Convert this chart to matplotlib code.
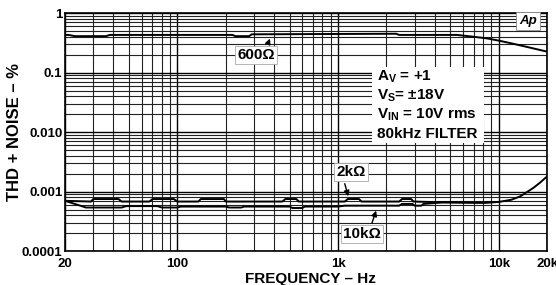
import matplotlib
matplotlib.use("Agg")
import matplotlib.pyplot as plt
from matplotlib.patches import Rectangle
from matplotlib.ticker import FixedLocator, FixedFormatter, LogLocator, NullFormatter

plt.rcParams['font.family'] = ['Liberation Sans', 'DejaVu Sans']
plt.rcParams['font.weight'] = 'bold'
plt.rcParams['mathtext.fontset'] = 'custom'
plt.rcParams['mathtext.rm'] = 'Liberation Sans:bold'
plt.rcParams['mathtext.bf'] = 'Liberation Sans:bold'
plt.rcParams['mathtext.it'] = 'Liberation Sans:bold:italic'

# data
f600 = [20, 21, 23, 36, 38, 220, 230, 280, 290, 2300, 2400, 5500, 7000, 8500, 10000, 12000, 15000, 20000]
v600 = [0.43, 0.43, 0.41, 0.41, 0.43, 0.43, 0.41, 0.41, 0.44, 0.45, 0.43, 0.43, 0.40, 0.375, 0.345, 0.31, 0.27, 0.225]

f2k = [20, 29, 30, 43, 45, 67, 70, 95, 100, 135, 140, 195, 200, 450, 470, 550, 570, 1100, 1150,
       1350, 1400, 2400, 2500, 2850, 2950, 4500, 8000, 10000, 12000, 13600, 16400, 18000, 20000]
v2k = [0.0007, 0.00068, 0.00075, 0.00075, 0.00068, 0.00068, 0.00075, 0.00075, 0.00068, 0.00068,
       0.00075, 0.00075, 0.00068, 0.00068, 0.00075, 0.00075, 0.00068, 0.00068, 0.00075, 0.00075,
       0.00068, 0.00068, 0.00075, 0.00075, 0.00068, 0.00066, 0.00065, 0.00067, 0.00073, 0.00083,
       0.00115, 0.0014, 0.0018]

f10k = [20, 27, 45, 48, 75, 80, 100, 105, 200, 210, 250, 260, 500, 520, 600, 620, 1000, 1100,
        1300, 2400, 2500, 2900, 3000, 3300, 3400, 4500, 8000, 10000]
v10k = [0.0007, 0.00054, 0.00054, 0.00057, 0.00057, 0.00054, 0.00054, 0.00056, 0.00056, 0.00054,
        0.00054, 0.00056, 0.00056, 0.00053, 0.00053, 0.00056, 0.00056, 0.00058, 0.00058, 0.00058,
        0.00062, 0.00062, 0.00058, 0.00058, 0.00062, 0.00066, 0.00065, 0.00067]

xticks = [20, 100, 1000, 10000, 20000]
xlabels = ['20', '100', '1k', '10k', '20k']
yticks = [0.0001, 0.001, 0.01, 0.1, 1]
ylabels = ['0.0001', '0.001', '0.010', '0.1', '1']

fig = plt.figure(figsize=(5.56, 2.85), dpi=100)
ax = fig.add_axes([0.117, 0.119, 0.867, 0.835])
ax.set_xscale('log')
ax.set_yscale('log')
ax.set_xlim(20, 20000)
ax.set_ylim(0.0001, 1)

ax.xaxis.set_major_locator(FixedLocator(xticks))
ax.xaxis.set_major_formatter(FixedFormatter(xlabels))
ax.xaxis.set_minor_locator(LogLocator(base=10, subs=range(2, 10), numticks=20))
ax.xaxis.set_minor_formatter(NullFormatter())
ax.yaxis.set_major_locator(FixedLocator(yticks))
ax.yaxis.set_major_formatter(FixedFormatter(ylabels))
ax.yaxis.set_minor_locator(LogLocator(base=10, subs=range(2, 10), numticks=20))
ax.yaxis.set_minor_formatter(NullFormatter())
ax.tick_params(which='both', length=0)
ax.tick_params(axis='y', labelsize=9.5, pad=2)
ax.tick_params(axis='x', labelsize=9.5, pad=5)
for lab in ax.get_xticklabels() + ax.get_yticklabels():
    lab.set_fontweight('bold')

ax.grid(which='major', color='black', linewidth=1.0)
ax.grid(which='minor', color='#222222', linewidth=0.8)
ax.set_axisbelow(True)
for s in ax.spines.values():
    s.set_linewidth(1.2)

ax.plot(f600, v600, color='black', lw=1.4, zorder=3)
ax.plot(f2k, v2k, color='black', lw=1.4, zorder=3)
ax.plot(f10k, v10k, color='black', lw=1.4, zorder=3)

W, H = 556.0, 285.0
def fx(px):
    return px / W
def fy(py):
    return 1 - py / H

# conditions box
fig.add_artist(Rectangle((fx(372), fy(143)), 112 / W, 76 / H, transform=fig.transFigure,
                         facecolor='white', edgecolor='none', zorder=5))
cond = [r'A$_{\mathrm{V}}$ = +1', r'V$_{\mathrm{S}}$= ±18V', r'V$_{\mathrm{IN}}$ = 10V rms', '80kHz FILTER']
for i, t in enumerate(cond):
    fig.text(fx(377), fy(77 + 19 * i), t, fontsize=11, fontweight='bold', va='center', ha='left', zorder=6)

box = dict(facecolor='white', edgecolor='#aaaaaa', linewidth=0.6, pad=1.5)
fig.text(fx(256), fy(55), '600Ω', fontsize=11, fontweight='bold', ha='center', va='center', bbox=box, zorder=6)
fig.text(fx(351), fy(172), '2kΩ', fontsize=11, fontweight='bold', ha='center', va='center', bbox=box, zorder=6)
fig.text(fx(362), fy(234), '10kΩ', fontsize=11, fontweight='bold', ha='center', va='center', bbox=box, zorder=6)

arr = dict(arrowstyle='-|>', color='black', lw=1.0, mutation_scale=8)
ax.annotate('', xy=(fx(271), fy(36)), xytext=(fx(267), fy(46)), xycoords='figure fraction',
            textcoords='figure fraction', arrowprops=arr, zorder=7)
ax.annotate('', xy=(fx(349), fy(199)), xytext=(fx(344), fy(181)), xycoords='figure fraction',
            textcoords='figure fraction', arrowprops=arr, zorder=7)
ax.annotate('', xy=(fx(377), fy(208)), xytext=(fx(371), fy(226)), xycoords='figure fraction',
            textcoords='figure fraction', arrowprops=arr, zorder=7)

fig.text(fx(528), fy(21), 'Ap', fontsize=9.5, fontweight='bold', fontstyle='italic', ha='center', va='center',
         bbox=dict(facecolor='white', edgecolor='#888888', linewidth=0.6, pad=2.5), zorder=6)

fig.text(fx(310), fy(278.5), 'FREQUENCY – Hz', fontsize=11, fontweight='bold', ha='center', va='center')
fig.text(fx(15), fy(132), 'THD + NOISE – %', fontsize=12, fontweight='bold', ha='center', va='center',
         rotation=90)

fig.savefig('out.png', dpi=100)
